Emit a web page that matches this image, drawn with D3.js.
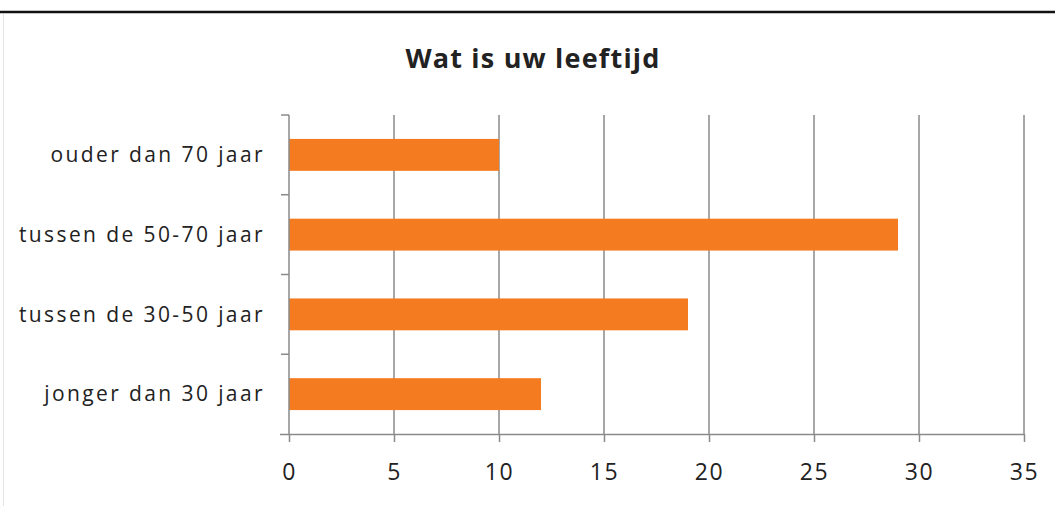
<!DOCTYPE html>
<html>
<head>
<meta charset="utf-8">
<script src="https://cdn.jsdelivr.net/npm/d3@7"></script>
<style>
  body { margin: 0; background: #fff; }
  svg text { font-family: "Open Sans", sans-serif; fill: #222; }
</style>
</head>
<body>
<div id="chart"></div>
<script>
// DATA
const categories = ["ouder dan 70 jaar", "tussen de 50-70 jaar", "tussen de 30-50 jaar", "jonger dan 30 jaar"];
const values = [10, 29, 19, 12];
const xTicks = [0, 5, 10, 15, 20, 25, 30, 35];
const title = "Wat is uw leeftijd";

// CONSTANTS
const w = 1055;
const h = 506;
const padLeft = 289;
const padRight = 31;
const padTop = 115;
const padBottom = 72;

const svg = d3.select('#chart')
    .append('svg')
    .attr('width', w)
    .attr('height', h);

// frame lines
svg.append('line')
    .attr('x1', 0).attr('x2', w)
    .attr('y1', 12).attr('y2', 12)
    .attr('stroke', '#111')
    .attr('stroke-width', 2.5);
svg.append('line')
    .attr('x1', 3.5).attr('x2', 3.5)
    .attr('y1', 14).attr('y2', h)
    .attr('stroke', '#e4e4e4')
    .attr('stroke-width', 1);

// SCALES
const xScale = d3.scaleLinear()
    .domain([0, 35])
    .range([padLeft, w - padRight]);
const yScale = d3.scaleBand()
    .domain(categories)
    .range([padTop, h - padBottom])
    .paddingInner(0.6)
    .paddingOuter(0.3);

// gridlines
svg.append('g')
    .selectAll('line')
    .data(xTicks.slice(1))
    .enter()
    .append('line')
    .attr('x1', d => xScale(d)).attr('x2', d => xScale(d))
    .attr('y1', padTop).attr('y2', h - padBottom)
    .attr('stroke', '#8a8a8a')
    .attr('stroke-width', 1.5);

// bars
svg.append('g')
    .selectAll('rect')
    .data(values)
    .enter()
    .append('rect')
    .attr('x', xScale(0))
    .attr('y', (d, i) => yScale(categories[i]))
    .attr('width', d => xScale(d) - xScale(0))
    .attr('height', yScale.bandwidth())
    .attr('fill', '#f47b20');

// X AXIS
const xAxis = d3.axisBottom(xScale)
    .tickValues(xTicks)
    .tickSize(8)
    .tickPadding(22);
const gx = svg.append('g')
    .attr('transform', `translate(0, ${h - padBottom})`)
    .call(xAxis);
gx.select('.domain').attr('stroke', '#8a8a8a').attr('stroke-width', 1.5)
    .attr('d', `M${padLeft - 9},0.5H${w - padRight}`);
gx.selectAll('.tick line').attr('stroke', '#8a8a8a').attr('stroke-width', 1.5);
gx.selectAll('.tick text').attr('font-size', 23).attr('fill', '#222')
    .attr('letter-spacing', 1.5)
    .style('font-family', '"Open Sans", sans-serif');

// Y AXIS (ticks on band boundaries)
const gy = svg.append('g');
gy.append('line')
    .attr('x1', padLeft).attr('x2', padLeft)
    .attr('y1', padTop).attr('y2', h - padBottom)
    .attr('stroke', '#8a8a8a')
    .attr('stroke-width', 1.5);
const boundaries = d3.range(categories.length).map(i => padTop + i * (h - padTop - padBottom) / categories.length);
gy.selectAll('line.tick')
    .data(boundaries)
    .enter()
    .append('line')
    .attr('class', 'tick')
    .attr('x1', padLeft - 8).attr('x2', padLeft)
    .attr('y1', d => d).attr('y2', d => d)
    .attr('stroke', '#8a8a8a')
    .attr('stroke-width', 1.5);
gy.selectAll('text')
    .data(categories)
    .enter()
    .append('text')
    .attr('x', 265)
    .attr('y', d => yScale(d) + yScale.bandwidth() / 2)
    .attr('dy', '0.35em')
    .attr('text-anchor', 'end')
    .attr('font-size', 21)
    .attr('letter-spacing', 2.4)
    .text(d => d);

// TITLE
svg.append('text')
    .attr('x', 533)
    .attr('y', 68)
    .attr('text-anchor', 'middle')
    .attr('font-size', 27)
    .attr('font-weight', 'bold')
    .attr('letter-spacing', 1.2)
    .text(title);
</script>
</body>
</html>
